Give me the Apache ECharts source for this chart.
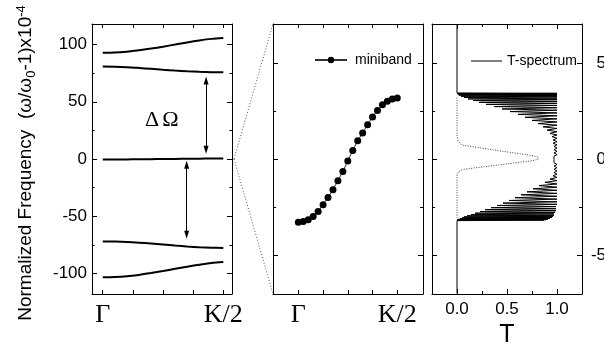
<!DOCTYPE html>
<html>
<head>
<meta charset="utf-8">
<script src="https://cdn.jsdelivr.net/npm/echarts@6/dist/echarts.min.js"></script>
<style>
html,body{margin:0;padding:0;background:#fff;}
#chart{width:604px;height:352px;}
</style>
</head>
<body>
<div id="chart"></div>
<script>
// ---- Band structure (left panel): wave vector from Γ (0) to K/2 (1) ----
const bandK = [0, 0.1, 0.2, 0.3, 0.4, 0.5, 0.6, 0.7, 0.8, 0.9, 1.0];
const band1 = [92.8, 93.0, 93.8, 95.0, 96.5, 98.2, 100.0, 101.9, 103.6, 105.0, 105.8];
const band2 = [80.8, 80.7, 80.3, 79.6, 78.8, 78.0, 77.3, 76.7, 76.2, 75.9, 75.8];
const band3 = [-0.4, -0.4, -0.35, -0.25, -0.15, 0.0, 0.1, 0.2, 0.3, 0.35, 0.35];
const band4 = [-72.1, -72.2, -72.5, -73.1, -73.9, -74.8, -75.7, -76.5, -77.1, -77.5, -77.7];
const band5 = [-103.3, -103.1, -102.5, -101.3, -99.7, -97.9, -96.0, -94.1, -92.4, -91.0, -90.1];

// gap markers (ΔΩ): k position, start and end frequency
const gapK = [0.857, 0.696];
const gapFrom = [68.6, -5.0];
const gapTo = [8.1, -66.3];
const gapLabelAt = [0.49, 34];

// ---- Miniband (middle panel) ----
const minibandK = [0, 0.05, 0.1, 0.15, 0.2, 0.25, 0.3, 0.35, 0.4, 0.45, 0.5,
                   0.55, 0.6, 0.65, 0.7, 0.75, 0.8, 0.85, 0.9, 0.95, 1.0];
const minibandW = [-3.30, -3.26, -3.16, -2.99, -2.73, -2.38, -2.00, -1.60, -1.13, -0.65, -0.10,
                   0.44, 0.95, 1.36, 1.79, 2.19, 2.53, 2.83, 3.01, 3.12, 3.18];

// ---- Transmission spectrum (right panel): [T, frequency] ----
const tSpectrum = [
  [0, 7.0], [0, 3.44],
  [1.00, 3.42], [0.00, 3.405], [1.00, 3.39], [0.01, 3.37], [1.00, 3.35], [0.02, 3.325],
  [1.00, 3.30], [0.04, 3.27], [1.00, 3.24], [0.07, 3.205], [1.00, 3.17], [0.11, 3.13],
  [1.00, 3.09], [0.16, 3.045], [1.00, 3.00], [0.22, 2.95], [1.00, 2.90], [0.29, 2.845],
  [1.00, 2.79], [0.37, 2.73], [1.00, 2.67], [0.45, 2.605], [1.00, 2.54], [0.53, 2.47],
  [1.00, 2.40], [0.61, 2.325], [1.00, 2.25], [0.68, 2.17], [1.00, 2.09], [0.75, 2.01],
  [1.00, 1.93], [0.81, 1.845], [1.00, 1.76], [0.86, 1.675], [1.00, 1.59], [0.90, 1.505],
  [1.00, 1.42], [0.93, 1.335], [1.00, 1.25], [0.95, 1.165], [1.00, 1.08], [0.96, 0.995],
  [1.00, 0.91], [0.96, 0.825], [1.00, 0.74], [0.97, 0.655], [1.00, 0.57], [0.97, 0.485],
  [1.00, 0.40], [0.97, 0.315], [1.00, 0.23], [0.97, 0.145], [0.99, 0.06], [0.97, -0.025],
  [0.99, -0.11], [0.97, -0.195], [1.00, -0.28], [0.97, -0.365], [1.00, -0.45], [0.97, -0.535],
  [1.00, -0.62], [0.97, -0.705], [1.00, -0.79], [0.96, -0.875], [1.00, -0.96], [0.93, -1.045],
  [1.00, -1.13], [0.88, -1.215], [1.00, -1.30], [0.82, -1.385], [1.00, -1.47], [0.76, -1.55],
  [1.00, -1.63], [0.70, -1.71], [1.00, -1.79], [0.64, -1.865], [1.00, -1.94], [0.58, -2.015],
  [1.00, -2.09], [0.52, -2.16], [1.00, -2.23], [0.46, -2.295], [1.00, -2.36], [0.40, -2.42],
  [0.99, -2.48], [0.34, -2.535], [0.99, -2.59], [0.28, -2.64], [0.99, -2.69], [0.23, -2.735],
  [0.98, -2.78], [0.18, -2.82], [0.97, -2.86], [0.14, -2.895], [0.97, -2.93], [0.10, -2.96],
  [0.96, -2.99], [0.07, -3.015], [0.95, -3.04], [0.05, -3.065], [0.93, -3.09], [0.03, -3.11],
  [0.91, -3.13], [0.01, -3.145], [0.89, -3.16], [0.00, -3.17], [0.87, -3.18],
  [0, -3.21], [0, -7.0]
];
// single-defect transmission (dotted): [T, frequency]
const tDefect = [
  [0.00, 3.20], [0.00, 2.00], [0.00, 1.20], [0.01, 0.95], [0.03, 0.80], [0.06, 0.72],
  [0.17, 0.63], [0.31, 0.52], [0.46, 0.40], [0.62, 0.28], [0.76, 0.17], [0.81, 0.10],
  [0.83, 0.04], [0.81, -0.02], [0.75, -0.09], [0.58, -0.20], [0.43, -0.30], [0.28, -0.40],
  [0.12, -0.50], [0.05, -0.56], [0.02, -0.65], [0.00, -0.80], [0.00, -2.00], [0.00, -3.07]
];

// ---- axis ranges and ticks ----
const leftRange = [-118, 118];
const leftTicks = [-100, -50, 0, 50, 100];
const leftMinor = [-75, -25, 25, 75];
const kRangeLeft = [-0.089, 1.072];
const kRangeMid = [-0.256, 1.26];
const kTicks = [0, 0.25, 0.5, 0.75, 1];
const kLabelValues = [0, 1];
const kLabelText = ['Γ', 'K/2'];
const zoomRange = [-7.03, 7.03];
const zoomTicks = [-5, 0, 5];
const zoomMinor = [-2.5, 2.5];
const tRange = [-0.25, 1.25];
const tTicks = [0, 0.5, 1];
const tMinor = [0.25, 0.75];

const SANS = 'Liberation Sans, Arial, sans-serif';
const SERIF = 'Liberation Serif, Times New Roman, serif';

function axis(o) {
  return {
    type: 'value', gridIndex: o.grid, position: o.pos, min: o.min, max: o.max,
    name: o.name || '', nameLocation: 'middle', nameGap: o.nameGap || 0,
    nameTextStyle: {fontFamily: SANS, fontSize: 25, color: '#000'},
    axisLine: {show: o.line !== false, onZero: false, lineStyle: {color: '#000', width: 1}},
    axisTick: {show: true, inside: true, length: o.len, customValues: o.ticks,
               lineStyle: {color: '#000', width: 1}},
    axisLabel: Object.assign({show: !!o.labels, customValues: o.labels || o.ticks,
                              color: '#000'}, o.labelStyle || {}),
    splitLine: {show: false}, minorTick: {show: false}
  };
}

const kFormatter = v => {
  const i = kLabelValues.indexOf(v);
  return i >= 0 ? kLabelText[i] : '';
};
const kLabelStyle = {fontFamily: SERIF, fontSize: 26, margin: 8, formatter: kFormatter};

const xAxes = [
  // left panel
  axis({grid: 0, pos: 'bottom', min: kRangeLeft[0], max: kRangeLeft[1], len: 4, ticks: kTicks,
        labels: kLabelValues, labelStyle: kLabelStyle}),
  axis({grid: 0, pos: 'top', min: kRangeLeft[0], max: kRangeLeft[1], len: 4, ticks: kTicks}),
  // middle panel
  axis({grid: 1, pos: 'bottom', min: kRangeMid[0], max: kRangeMid[1], len: 4, ticks: kTicks,
        labels: kLabelValues, labelStyle: kLabelStyle}),
  axis({grid: 1, pos: 'top', min: kRangeMid[0], max: kRangeMid[1], len: 4, ticks: kTicks}),
  // right panel
  axis({grid: 2, pos: 'bottom', min: tRange[0], max: tRange[1], len: 5, ticks: tTicks,
        labels: tTicks, name: 'T', nameGap: 28,
        labelStyle: {fontFamily: SANS, fontSize: 17, margin: 7, formatter: v => v.toFixed(1)}}),
  axis({grid: 2, pos: 'bottom', min: tRange[0], max: tRange[1], len: 3, ticks: tMinor, line: false}),
  axis({grid: 2, pos: 'top', min: tRange[0], max: tRange[1], len: 5, ticks: tTicks}),
  axis({grid: 2, pos: 'top', min: tRange[0], max: tRange[1], len: 3, ticks: tMinor, line: false})
];

const yAxes = [
  // left panel
  axis({grid: 0, pos: 'left', min: leftRange[0], max: leftRange[1], len: 5, ticks: leftTicks,
        labels: leftTicks, labelStyle: {fontFamily: SANS, fontSize: 17, margin: 5}}),
  axis({grid: 0, pos: 'left', min: leftRange[0], max: leftRange[1], len: 2.5, ticks: leftMinor, line: false}),
  axis({grid: 0, pos: 'right', min: leftRange[0], max: leftRange[1], len: 5, ticks: leftTicks}),
  axis({grid: 0, pos: 'right', min: leftRange[0], max: leftRange[1], len: 2.5, ticks: leftMinor, line: false}),
  // middle panel
  axis({grid: 1, pos: 'left', min: zoomRange[0], max: zoomRange[1], len: 5, ticks: zoomTicks}),
  axis({grid: 1, pos: 'left', min: zoomRange[0], max: zoomRange[1], len: 3, ticks: zoomMinor, line: false}),
  axis({grid: 1, pos: 'right', min: zoomRange[0], max: zoomRange[1], len: 5, ticks: zoomTicks}),
  axis({grid: 1, pos: 'right', min: zoomRange[0], max: zoomRange[1], len: 3, ticks: zoomMinor, line: false}),
  // right panel
  axis({grid: 2, pos: 'left', min: zoomRange[0], max: zoomRange[1], len: 5, ticks: zoomTicks}),
  axis({grid: 2, pos: 'left', min: zoomRange[0], max: zoomRange[1], len: 3, ticks: zoomMinor, line: false}),
  axis({grid: 2, pos: 'right', min: zoomRange[0], max: zoomRange[1], len: 5, ticks: zoomTicks,
        labels: zoomTicks, labelStyle: {fontFamily: SANS, fontSize: 17, margin: 24, align: 'right'}}),
  axis({grid: 2, pos: 'right', min: zoomRange[0], max: zoomRange[1], len: 3, ticks: zoomMinor, line: false})
];

function bandSeries(values, extra) {
  return Object.assign({
    type: 'line', xAxisIndex: 0, yAxisIndex: 0, smooth: 0.3, symbol: 'none',
    lineStyle: {color: '#000', width: 2}, silent: true,
    data: bandK.map((k, i) => [k, values[i]])
  }, extra || {});
}

const series = [
  bandSeries(band1),
  bandSeries(band2),
  bandSeries(band3, {
    markLine: {
      silent: true, symbol: ['triangle', 'triangle'], symbolSize: [5, 8],
      label: {show: false},
      lineStyle: {color: '#000', width: 1, type: 'solid'},
      data: gapK.map((k, i) => [{coord: [k, gapFrom[i]]}, {coord: [k, gapTo[i]]}])
    }
  }),
  bandSeries(band4),
  bandSeries(band5),
  {
    name: 'miniband', type: 'line', xAxisIndex: 2, yAxisIndex: 4,
    symbol: 'circle', symbolSize: 7, showSymbol: true,
    lineStyle: {color: '#333', width: 1}, itemStyle: {color: '#000'},
    silent: true,
    data: minibandK.map((k, i) => [k, minibandW[i]])
  },
  {
    name: 'T-spectrum', type: 'line', xAxisIndex: 4, yAxisIndex: 8,
    symbol: 'none', lineStyle: {color: '#000', width: 1}, itemStyle: {color: '#000'},
    silent: true, data: tSpectrum
  },
  {
    name: 'defect', type: 'line', xAxisIndex: 4, yAxisIndex: 8,
    symbol: 'none', lineStyle: {color: '#444', width: 1, type: [1, 1.5]},
    silent: true, data: tDefect
  }
];

const gridBox = {outerBoundsMode: 'none', containLabel: false, top: 24, height: 270};

const chart = echarts.init(document.getElementById('chart'), null, {renderer: 'canvas'});
chart.setOption({
  animation: false,
  backgroundColor: '#fff',
  grid: [
    Object.assign({left: 92, width: 140}, gridBox),
    Object.assign({left: 273, width: 150}, gridBox),
    Object.assign({left: 432, width: 150}, gridBox)
  ],
  xAxis: xAxes,
  yAxis: yAxes,
  legend: [
    {data: ['miniband'], left: 309, top: 48, itemWidth: 32, itemHeight: 8, selectedMode: false,
     textStyle: {fontFamily: SANS, fontSize: 14, color: '#000', padding: [0, 0, 0, 3]}},
    {data: [{name: 'T-spectrum', icon: 'rect'}], left: 466, top: 49, itemWidth: 31, itemHeight: 1,
     selectedMode: false,
     textStyle: {fontFamily: SANS, fontSize: 14, color: '#000', padding: [0, 0, 0, 0]}}
  ],
  series: series
});

// Zoom connectors, gap label and the frequency axis title
const origin = chart.convertToPixel({seriesIndex: 0}, [kRangeLeft[1], 0]);
const cornerTop = chart.convertToPixel({seriesIndex: 5}, [kRangeMid[0], zoomRange[1]]);
const cornerBot = chart.convertToPixel({seriesIndex: 5}, [kRangeMid[0], zoomRange[0]]);
const gapPos = chart.convertToPixel({seriesIndex: 0}, gapLabelAt);
const dotted = {stroke: '#555', lineWidth: 1, lineDash: [1, 2]};

chart.setOption({
  graphic: [
    {type: 'line', silent: true, shape: {x1: origin[0] + 2, y1: origin[1], x2: cornerTop[0], y2: cornerTop[1]}, style: dotted},
    {type: 'line', silent: true, shape: {x1: origin[0] + 2, y1: origin[1], x2: cornerBot[0], y2: cornerBot[1]}, style: dotted},
    {type: 'text', silent: true, x: gapPos[0], y: gapPos[1],
     style: {
       text: '{d|Δ}{o|Ω}', align: 'center', verticalAlign: 'middle',
       rich: {
         d: {fontFamily: SERIF, fontSize: 22, fill: '#000', padding: [0, 3, 0, 0]},
         o: {fontFamily: SERIF, fontSize: 22, fill: '#000'}
       }
     }},
    {type: 'text', silent: true, x: 26, y: 163, rotation: Math.PI / 2,
     style: {
       text: '{a|Normalized Frequency  (ω/ω}{s|0}{a|-1)x10}{p|-4}',
       align: 'center', verticalAlign: 'middle',
       rich: {
         a: {fontFamily: SANS, fontSize: 19, fill: '#000', lineHeight: 23, verticalAlign: 'middle'},
         s: {fontFamily: SANS, fontSize: 13, fill: '#000', lineHeight: 13, verticalAlign: 'bottom'},
         p: {fontFamily: SANS, fontSize: 13, fill: '#000', lineHeight: 13, verticalAlign: 'top'}
       }
     }}
  ]
});
</script>
</body>
</html>
